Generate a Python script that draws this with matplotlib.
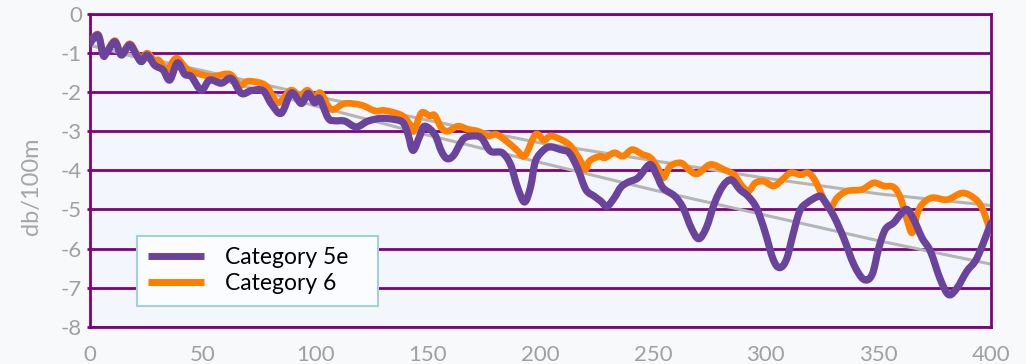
import matplotlib
matplotlib.use('Agg')
from matplotlib import pyplot as plt
from matplotlib.path import Path
from matplotlib.patches import PathPatch
from matplotlib.lines import Line2D

cat5e_x = [0, 3.6, 5.8, 7.2, 11, 13.9, 17.6, 20.6, 22.8, 25.4, 28.7, 32.4, 35.4, 38.8, 42, 45, 49.4, 53.1,
           58.3, 62.7, 67.2, 71.6, 76.8, 80.5, 84.9, 89.4, 93.8, 96.8, 99.7, 101.9, 105.7, 108.6, 113.1,
           118.2, 123.4, 129.3, 135.3, 139, 141.2, 143.4, 146.4, 148.6, 153, 156, 158.5, 161.5, 165.9,
           171.1, 174.1, 177.8, 183, 186.7, 189.7, 192.9, 195.6, 197.8, 201.6, 204.5, 208.9, 212.7, 216.4,
           220.1, 223.8, 226.8, 229.5, 232.8, 235.7, 239, 243.3, 248.5, 251.4, 254.4, 259.6, 263.3, 266.9,
           270.2, 273.6, 277.3, 281, 284.7, 288.5, 292.1, 295.9, 299.6, 303.3, 306.2, 309.2, 312.1, 315.1,
           318.4, 323.6, 325.7, 330.2, 334.6, 339.1, 343.5, 347.2, 350.2, 353.1, 356.8, 359.8, 362.7,
           365.7, 369.4, 373.1, 377.5, 381.2, 384.9, 389.3, 393.8, 400]
cat5e_y = [-0.75, -0.54, -1.05, -1.01, -0.71, -1.05, -0.79, -1.05, -1.22, -1.05, -1.31, -1.43, -1.69, -1.25,
           -1.54, -1.6, -1.95, -1.69, -1.77, -1.65, -2.03, -1.96, -1.96, -2.3, -2.54, -2.02, -2.29, -2.03,
           -2.27, -2.16, -2.66, -2.73, -2.74, -2.89, -2.74, -2.67, -2.7, -2.78, -3.08, -3.49, -3.12, -2.87,
           -3.08, -3.51, -3.7, -3.61, -3.19, -3.12, -3.19, -3.51, -3.55, -3.85, -4.42, -4.81, -4.42, -3.76,
           -3.47, -3.4, -3.47, -3.55, -3.94, -4.49, -4.66, -4.79, -4.92, -4.7, -4.43, -4.3, -4.19, -3.85,
           -4.1, -4.45, -4.66, -4.96, -5.47, -5.75, -5.47, -4.83, -4.4, -4.24, -4.49, -4.66, -4.96, -5.56,
           -6.28, -6.49, -6.28, -5.64, -5.04, -4.83, -4.66, -4.75, -5.17, -5.73, -6.41, -6.79, -6.67, -5.98,
           -5.51, -5.34, -5.13, -5.0, -5.26, -5.73, -6.07, -6.79, -7.18, -7.01, -6.58, -6.24, -5.35]

cat6_x = [0, 3.6, 5.8, 7.2, 11, 13.9, 17.6, 20.6, 22.8, 25.4, 28.7, 30.5, 34.2, 38.3, 43.5, 50.2, 54.6, 62,
          66.5, 70.1, 76, 79, 83.5, 89.1, 93.1, 96.5, 99.7, 102.4, 107.1, 113.1, 120.5, 126.5, 130.9, 138.3,
          142, 143.8, 147.1, 150.8, 153, 156, 158.9, 163.3, 167.8, 172.3, 176.7, 180.4, 184.8, 189.3, 193,
          197.8, 201.6, 204.5, 209.7, 213.4, 217.4, 219.9, 221.8, 226.3, 228.5, 232.8, 236.6, 240.7, 245.2,
          248.9, 252.5, 254.7, 257.6, 262.4, 265.8, 269.6, 275.4, 281.4, 285.8, 289.5, 292.4, 295.4, 299.1,
          303.5, 307.3, 311, 315.4, 318.4, 320.6, 322.8, 328, 331.7, 336.1, 342.7, 347.9, 352.4, 356.8,
          359.8, 362.7, 365, 367.2, 369.4, 373.9, 380.5, 387.2, 392.3, 396, 400]
cat6_y = [-0.72, -0.52, -1.0, -0.98, -0.68, -1.0, -0.76, -1.0, -1.15, -1.0, -1.2, -1.18, -1.43, -1.13, -1.43,
          -1.56, -1.6, -1.54, -1.82, -1.72, -1.77, -1.89, -2.27, -1.95, -2.1, -1.95, -2.13, -2.02, -2.44,
          -2.29, -2.33, -2.48, -2.47, -2.59, -2.82, -3.0, -2.53, -2.61, -2.59, -2.91, -3.0, -2.87, -2.95,
          -3.0, -3.12, -3.08, -3.25, -3.47, -3.63, -3.08, -3.23, -3.12, -3.23, -3.38, -3.72, -3.98, -3.76,
          -3.64, -3.68, -3.55, -3.64, -3.47, -3.59, -3.68, -3.98, -4.19, -3.89, -3.81, -3.98, -4.09, -3.85,
          -3.98, -4.11, -4.4, -4.53, -4.32, -4.28, -4.4, -4.24, -4.06, -4.11, -4.06, -4.15, -4.36, -4.96,
          -4.7, -4.53, -4.49, -4.32, -4.4, -4.43, -4.7, -5.26, -5.6, -5.13, -4.87, -4.7, -4.75, -4.58, -4.7,
          -4.96, -5.6]

trend_x = [0, 50, 100, 150, 200, 250, 300, 350, 400]
trend5e_y = [-0.8, -1.55, -2.35, -3.1, -3.8, -4.5, -5.15, -5.8, -6.4]
trend6_y = [-0.8, -1.45, -2.1, -2.72, -3.3, -3.75, -4.2, -4.6, -4.9]

x_ticks = [0, 50, 100, 150, 200, 250, 300, 350, 400]
y_ticks = [0, -1, -2, -3, -4, -5, -6, -7, -8]


def smooth_path(xs, ys):
    # draw the read points as a smoothed (Catmull-Rom) bezier, like an Excel smoothed line
    pts = list(zip(xs, ys))
    verts = [pts[0]]
    codes = [Path.MOVETO]
    n = len(pts)
    for i in range(n - 1):
        p0 = pts[max(i - 1, 0)]
        p1 = pts[i]
        p2 = pts[i + 1]
        p3 = pts[min(i + 2, n - 1)]
        c1 = (p1[0] + (p2[0] - p0[0]) / 6, p1[1] + (p2[1] - p0[1]) / 6)
        c2 = (p2[0] - (p3[0] - p1[0]) / 6, p2[1] - (p3[1] - p1[1]) / 6)
        verts += [c1, c2, p2]
        codes += [Path.CURVE4] * 3
    return Path(verts, codes)


plt.rcParams['font.family'] = ['Lato', 'DejaVu Sans']
plt.rcParams['axes.unicode_minus'] = False

purple = '#800080'
c5e = '#6a449c'
c6 = '#ff7f00'
fig = plt.figure(figsize=(10.26, 3.64), dpi=100, facecolor='#f8f9fa')
ax = fig.add_axes([90 / 1026, 1 - 326.7 / 364, 901 / 1026, 312.7 / 364])
ax.set_facecolor('#f3f6fd')

ax.plot(trend_x, trend5e_y, color='#b5b5b5', lw=2.2, zorder=2)
ax.plot(trend_x, trend6_y, color='#b5b5b5', lw=2.2, zorder=2)
ax.add_patch(PathPatch(smooth_path(cat6_x, cat6_y), facecolor='none', edgecolor=c6, lw=4.8,
                       joinstyle='round', capstyle='round', zorder=3))
ax.add_patch(PathPatch(smooth_path(cat5e_x, cat5e_y), facecolor='none', edgecolor=c5e, lw=5.2,
                       joinstyle='round', capstyle='round', zorder=4))

ax.set_xlim(0, 400)
ax.set_ylim(-8, 0)
ax.set_xticks(x_ticks)
ax.set_yticks(y_ticks)
ax.set_xticklabels([str(v) for v in x_ticks])
ax.set_yticklabels([str(v) for v in y_ticks])
ax.yaxis.grid(True, color=purple, lw=2, zorder=1)
ax.set_axisbelow(True)
for s in ax.spines.values():
    s.set_color(purple)
    s.set_linewidth(2)
ax.tick_params(axis='x', length=0, pad=13, labelsize=16, labelcolor='#a0a0a0')
ax.tick_params(axis='y', length=2.2, width=2, color=purple, pad=3.5, labelsize=16, labelcolor='#a0a0a0')

fig.text(31 / 1026, 1 - 186 / 364, 'db/100m', rotation=90, ha='center', va='center',
         fontsize=17, color='#a6a6a6')

handles = [Line2D([], [], color=c5e, lw=5), Line2D([], [], color=c6, lw=5)]
leg = ax.legend(handles, ['Category 5e   ', 'Category 6'], loc='upper left',
                bbox_to_anchor=(0.052, 0.29), borderaxespad=0,
                fontsize=16.5, handlelength=2.45, handletextpad=0.9, labelspacing=0.2,
                borderpad=0.5, fancybox=False, framealpha=1)
leg.get_frame().set_edgecolor('#9fd2d9')
leg.get_frame().set_facecolor('#fafcff')
leg.get_frame().set_linewidth(1.5)
for h in leg.get_lines():
    h.set_solid_capstyle('butt')

fig.savefig('out.png', dpi=100, facecolor=fig.get_facecolor())
